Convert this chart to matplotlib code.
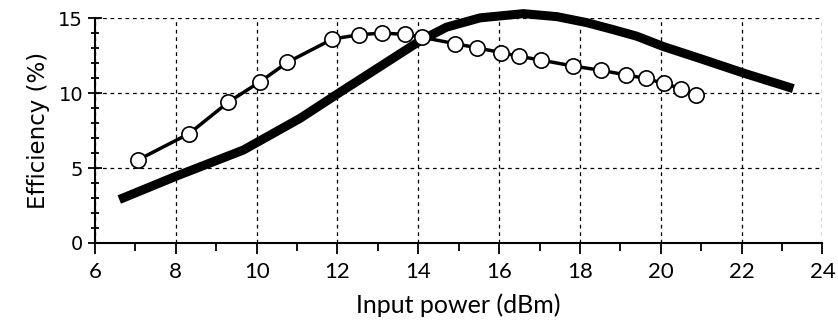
import matplotlib
matplotlib.use("Agg")
import matplotlib.pyplot as plt
from matplotlib.ticker import MultipleLocator

# thick curve (no markers)
thick_x = [6.6, 8.0, 9.67, 11.07, 12.06, 13.1, 14.05, 14.7, 15.53, 16.6, 17.43, 18.17,
           18.8, 19.4, 20.07, 20.98, 22.09, 23.28]
thick_y = [2.9, 4.45, 6.2, 8.31, 10.05, 11.85, 13.5, 14.4, 15.02, 15.3, 15.1, 14.7,
           14.25, 13.8, 13.1, 12.3, 11.3, 10.3]

# thin curve with open circles
circ_x = [7.07, 8.33, 9.3, 10.08, 10.76, 11.87, 12.54, 13.11, 13.67, 14.1, 14.9, 15.46,
          16.05, 16.5, 17.04, 17.84, 18.52, 19.13, 19.63, 20.07, 20.5, 20.87]
circ_y = [5.55, 7.3, 9.4, 10.75, 12.05, 13.6, 13.9, 14.0, 13.92, 13.72, 13.3, 13.02,
          12.7, 12.45, 12.2, 11.8, 11.52, 11.22, 10.98, 10.65, 10.3, 9.88]

x_ticks = [6, 8, 10, 12, 14, 16, 18, 20, 22, 24]
y_ticks = [0, 5, 10, 15]

fig = plt.figure(figsize=(8.38, 3.24), dpi=100)
ax = fig.add_axes([0.1134, 0.25, 0.868, 0.694])

ax.plot(thick_x, thick_y, color="black", linewidth=6.5, solid_capstyle="butt",
        solid_joinstyle="round", clip_on=False, zorder=3)
ax.plot(circ_x, circ_y, color="black", linewidth=2.5, marker="o", markersize=11,
        markerfacecolor="white", markeredgecolor="black", markeredgewidth=1.2, clip_on=False, zorder=4)

ax.set_xlim(6, 24)
ax.set_ylim(0, 15)
ax.set_xticks(x_ticks)
ax.set_yticks(y_ticks)
ax.xaxis.set_minor_locator(MultipleLocator(1))
ax.yaxis.set_minor_locator(MultipleLocator(1))

ax.grid(True, which="major", color="black", linestyle=(0, (3, 3)), linewidth=0.9)
for side in ["top", "right"]:
    ax.spines[side].set_visible(False)
for side in ["left", "bottom"]:
    ax.spines[side].set_linewidth(1.5)

ax.tick_params(which="both", direction="inout", width=1.3, colors="black")
ax.tick_params(which="major", length=10)
ax.tick_params(which="minor", length=6)
ax.tick_params(axis="x", which="both", direction="out")
ax.tick_params(axis="x", which="major", length=8, pad=6)
ax.tick_params(axis="x", which="minor", length=6)

narrow = ["Liberation Sans Narrow", "Lato", "DejaVu Sans"]
for lab in ax.get_xticklabels():
    lab.set_fontfamily(narrow)
    lab.set_fontsize(16)
for lab in ax.get_yticklabels():
    lab.set_fontfamily("DejaVu Sans")
    lab.set_fontsize(14)

ax.set_xlabel("Input power (dBm)", fontsize=18, family=["Lato", "DejaVu Sans"], labelpad=8)
ax.set_ylabel("Efficiency (%)", fontsize=16.5, family="DejaVu Sans", labelpad=6)

fig.savefig("out.png", dpi=100)
